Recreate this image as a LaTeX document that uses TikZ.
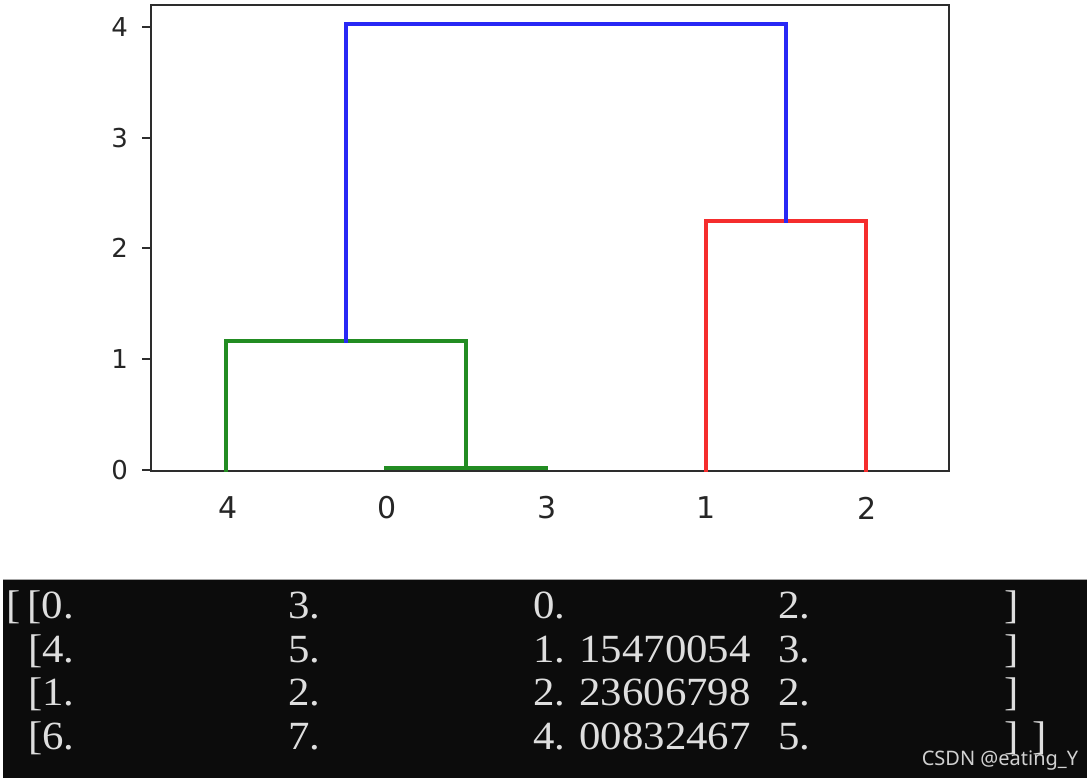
\documentclass[tikz,border=0pt]{standalone}
\usepackage{fontspec}
\setmainfont{DejaVu Sans}
\newfontfamily\consolefont{Liberation Serif}[FakeStretch=1.07]
\newfontfamily\wmfont{Noto Sans}
\definecolor{dgreen}{RGB}{34,140,34}
\definecolor{dred}{RGB}{245,45,45}
\definecolor{dblue}{RGB}{40,40,245}
\definecolor{axisgray}{RGB}{45,45,45}
\definecolor{conbg}{RGB}{12,12,12}
\definecolor{context}{RGB}{222,222,222}
\begin{document}
\begin{tikzpicture}[x=1pt,y=-1pt,
  link/.style={line width=3.4pt,line cap=rect},
  frame/.style={draw=axisgray,line width=2pt},
  ytick/.style={anchor=east,inner sep=0pt,font=\fontsize{26}{26}\selectfont,text=black!85},
  xtick/.style={anchor=center,inner sep=0pt,font=\fontsize{30}{30}\selectfont,text=black!85},
  con/.style={anchor=base west,inner sep=0pt,font=\consolefont\fontsize{40}{40}\selectfont,text=context},
  wm/.style={anchor=center,inner sep=0pt,font=\wmfont\fontsize{20}{20}\selectfont,text=white!82!black}]
\useasboundingbox (0,0) rectangle (1091,783);
\fill[white] (0,0) rectangle (1091,783);
% ---- axes frame
\node[frame,rectangle,minimum width=798pt,minimum height=465.5pt,inner sep=0pt,anchor=north west] (axes) at (150,4.5) {};
% ---- y ticks
\foreach \v/\y in {4/27,3/138,2/248,1/359,0/470}{
  \draw[axisgray,line width=1.6pt] (142,\y) -- (150,\y);
  \node[ytick] (yt\v) at (128,\y) {\v};
}
% ---- x tick labels (leaf order)
\node[xtick] (xl4) at (228,508) {4};
\node[xtick] (xl0) at (387,508) {0};
\node[xtick] (xl3) at (547,508) {3};
\node[xtick] (xl1) at (706,508) {1};
\node[xtick] (xl2) at (867,508) {2};
% ---- dendrogram coordinates
\coordinate (L4) at (226,470);
\coordinate (L0) at (386,468);
\coordinate (L3) at (546,468);
\coordinate (L1) at (706,470);
\coordinate (L2) at (866,470);
\coordinate (M03) at (466,468);
\coordinate (G) at (346,341);
\coordinate (R) at (786,221);
\coordinate (B) at (566,24);
% green cluster
\draw[link,dgreen] (L0) -- (L3);
\draw[link,dgreen] (L4) |- (G) -| (M03);
% red cluster
\draw[link,dred] (L1) |- (R) -| (L2);
% blue link
\draw[link,dblue] (G) |- (B) -| (R);
% ---- console output
\fill[conbg] (3,579) rectangle (1087,778);
\draw[gray!70,line width=0.8pt] (3,579) -- (1087,579);
\node[con] (r1c1) at (6,618) {[\kern7pt[0.};
\node[con] (r1c2) at (288,618) {3.};
\node[con] (r1c3) at (533,618) {0.};
\node[con] (r1c4) at (778,618) {2.};
\node[con] (r1c5) at (1004,618) {]};
\node[con] (r2c1) at (28,662) {[4.};
\node[con] (r2c2) at (288,662) {5.};
\node[con] (r2c3) at (533,662) {1. 15470054};
\node[con] (r2c4) at (778,662) {3.};
\node[con] (r2c5) at (1004,662) {]};
\node[con] (r3c1) at (28,705) {[1.};
\node[con] (r3c2) at (288,705) {2.};
\node[con] (r3c3) at (533,705) {2. 23606798};
\node[con] (r3c4) at (778,705) {2.};
\node[con] (r3c5) at (1004,705) {]};
\node[con] (r4c1) at (28,749) {[6.};
\node[con] (r4c2) at (288,749) {7.};
\node[con] (r4c3) at (533,749) {4. 00832467};
\node[con] (r4c4) at (778,749) {5.};
\node[con] (r4c5) at (1004,749) {]\kern14pt]};
\node[wm] (wmark) at (1000,761) {CSDN @eating\_Y};
\end{tikzpicture}
\end{document}
